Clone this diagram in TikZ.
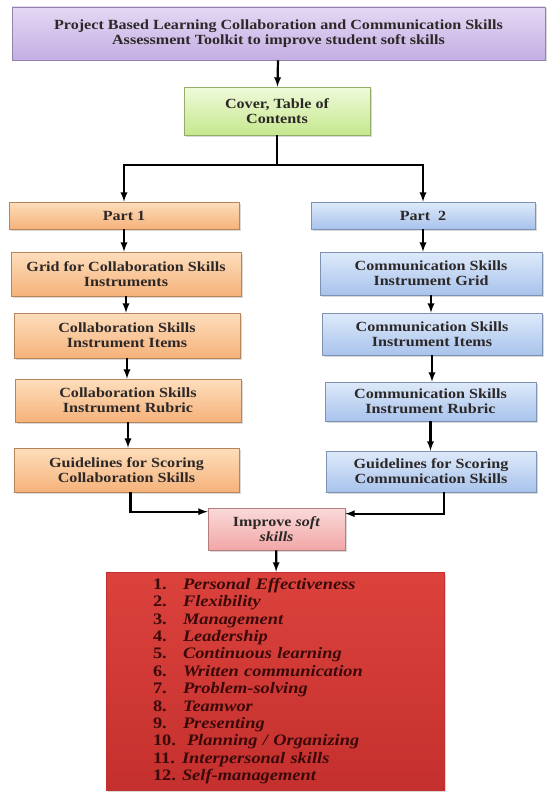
\documentclass[tikz,border=0pt]{standalone}
\usepackage{fontspec}
\setmainfont{Liberation Serif}[FakeStretch=1.15]
\usepackage{xcolor}
\usetikzlibrary{arrows}
\usetikzlibrary{shadows}
\definecolor{mypurpleA}{RGB}{228,216,244}
\definecolor{mypurpleB}{RGB}{196,174,227}
\definecolor{mygreenA}{RGB}{240,250,218}
\definecolor{mygreenB}{RGB}{197,232,142}
\definecolor{myorangeA}{RGB}{253,222,188}
\definecolor{myorangeB}{RGB}{246,178,122}
\definecolor{myblueA}{RGB}{222,234,250}
\definecolor{myblueB}{RGB}{168,195,236}
\definecolor{mypinkA}{RGB}{250,218,218}
\definecolor{mypinkB}{RGB}{242,166,166}
\definecolor{myredA}{RGB}{220,66,60}
\definecolor{myredB}{RGB}{196,48,46}
\definecolor{mytext}{RGB}{45,40,40}
\definecolor{mylist}{RGB}{58,10,10}

\begin{document}
\begin{tikzpicture}[x=1pt, y=-1pt,
box/.style 2 args={top color=#1, bottom color=#2, draw=#2!75!black, line width=0.6pt,
  align=center, text=mytext, inner sep=2pt,
  font=\bfseries\fontsize{14}{15}\selectfont,
  drop shadow={opacity=0.3, shadow xshift=1.5pt, shadow yshift=-1.5pt}},
arr/.style={-latex, line width=2.2pt}
]
\useasboundingbox (0,0) rectangle (555,792);

\node[box={mypurpleA}{mypurpleB}, minimum width=533, minimum height=53] (toolkit) at (278.5,33.5)
  {Project Based Learning Collaboration and Communication Skills\\Assessment Toolkit to improve student soft skills};
\node[box={mygreenA}{mygreenB}, minimum width=186, minimum height=48] (cover) at (277,111)
  {Cover, Table of\\Contents};

\node[box={myorangeA}{myorangeB}, minimum width=230, minimum height=27] (part1) at (124,215.5) {Part 1};
\node[box={myorangeA}{myorangeB}, minimum width=230, minimum height=44] (grid1) at (126,274)
  {Grid for Collaboration Skills\\Instruments};
\node[box={myorangeA}{myorangeB}, minimum width=226, minimum height=45] (items1) at (127,335.5)
  {Collaboration Skills\\Instrument Items};
\node[box={myorangeA}{myorangeB}, minimum width=226, minimum height=43] (rubric1) at (128,400.5)
  {Collaboration Skills\\Instrument Rubric};
\node[box={myorangeA}{myorangeB}, minimum width=225, minimum height=44] (guide1) at (126.5,470)
  {Guidelines for Scoring\\Collaboration Skills};

\node[box={myblueA}{myblueB}, minimum width=224, minimum height=27] (part2) at (423,215.5) {Part~~2};
\node[box={myblueA}{myblueB}, minimum width=222, minimum height=43] (grid2) at (431,273.5)
  {Communication Skills\\Instrument Grid};
\node[box={myblueA}{myblueB}, minimum width=220, minimum height=42] (items2) at (432,334)
  {Communication Skills\\Instrument Items};
\node[box={myblueA}{myblueB}, minimum width=211, minimum height=39] (rubric2) at (430.5,401.5)
  {Communication Skills\\Instrument Rubric};
\node[box={myblueA}{myblueB}, minimum width=210, minimum height=41] (guide2) at (431,471.5)
  {Guidelines for Scoring\\Communication Skills};

\node[box={mypinkA}{mypinkB}, minimum width=137, minimum height=42] (improve) at (276.5,529)
  {Improve \textit{soft}\\\textit{skills}};

\node[box={myredA}{myredB}, draw=myredB, text=mylist, align=left, text width=244, inner xsep=47pt,
  minimum height=218, font=\bfseries\fontsize{16}{17.4}\selectfont] (softskills) at (275,681)
  {\makebox[30pt][l]{1.}\textit{Personal Effectiveness}\\
   \makebox[30pt][l]{2.}\textit{Flexibility}\\
   \makebox[30pt][l]{3.}\textit{Management}\\
   \makebox[30pt][l]{4.}\textit{Leadership}\\
   \makebox[30pt][l]{5.}\textit{Continuous learning}\\
   \makebox[30pt][l]{6.}\textit{Written communication}\\
   \makebox[30pt][l]{7.}\textit{Problem-solving}\\
   \makebox[30pt][l]{8.}\textit{Teamwor}\\
   \makebox[30pt][l]{9.}\textit{Presenting}\\
   \makebox[34pt][l]{10.}\textit{Planning / Organizing}\\
   \makebox[29pt][l]{11.}\textit{Interpersonal skills}\\
   \makebox[29pt][l]{12.}\textit{Self-management}};

\coordinate (split) at (277,165);
\draw[arr] (toolkit) -- (cover);
\draw[line width=2.2pt] (cover) -- (split);
\draw[arr] (split) -| (part1.north);
\draw[arr] (split) -| (part2.north);

\draw[arr] (part1) -- (part1 |- grid1.north);
\draw[arr] (grid1) -- (grid1 |- items1.north);
\draw[arr] (items1) -- (items1 |- rubric1.north);
\draw[arr] (rubric1) -- (rubric1 |- guide1.north);

\draw[arr] (part2) -- (part2 |- grid2.north);
\draw[arr] (grid2) -- (grid2 |- items2.north);
\draw[arr] (items2) -- (items2 |- rubric2.north);
\draw[arr] (rubric2) -- (rubric2 |- guide2.north);

\draw[arr] ([xshift=4pt]guide1.south) |- ([yshift=-4pt]improve.north west);
\draw[arr] ([xshift=13pt]guide2.south) |- ([yshift=-6pt]improve.north east);
\draw[arr] (improve) -- (softskills);
\end{tikzpicture}
\end{document}
